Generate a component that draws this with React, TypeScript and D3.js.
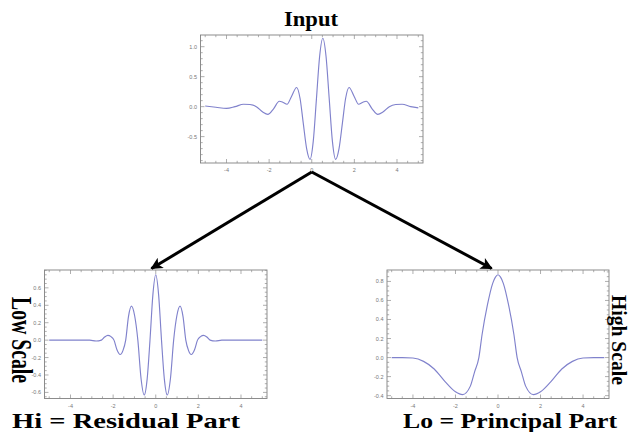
import React from 'react';
import * as d3 from 'd3';

// values
const inputX = [-5, -4.5, -4, -3.6, -3.2, -2.9, -2.6, -2.3, -2.06, -1.8, -1.52, -1.34, -1.16, -0.95, -0.71, -0.55, -0.4, -0.24, -0.08, 0.07, 0.22, 0.37, 0.52, 0.67, 0.82, 0.97, 1.12, 1.28, 1.44, 1.59, 1.75, 1.99, 2.2, 2.38, 2.56, 2.84, 3.1, 3.34, 3.64, 3.94, 4.24, 4.64, 5];
const inputY = [0.01, -0.01, -0.03, 0, 0.04, 0.035, 0, -0.09, -0.13, -0.04, 0.09, 0.07, 0.04, 0.17, 0.32, 0.14, -0.27, -0.7, -0.88, -0.58, 0.13, 0.84, 1.14, 0.84, 0.13, -0.58, -0.88, -0.7, -0.27, 0.14, 0.32, 0.17, 0.04, 0.07, 0.09, -0.04, -0.13, -0.09, 0, 0.035, 0.04, 0, -0.02];

const hiX = [-5, -4, -3.1, -2.8, -2.55, -2.4, -2.25, -2.1, -1.96, -1.82, -1.67, -1.54, -1.41, -1.28, -1.14, -0.99, -0.84, -0.69, -0.54, -0.405, -0.27, -0.135, 0, 0.135, 0.27, 0.405, 0.54, 0.69, 0.84, 0.99, 1.14, 1.28, 1.41, 1.54, 1.67, 1.82, 1.96, 2.1, 2.25, 2.4, 2.55, 2.8, 3.1, 4, 5];
const hiY = [0, 0, 0, -0.01, 0, 0.035, 0.055, 0.04, 0, -0.11, -0.165, -0.12, 0, 0.27, 0.39, 0.28, 0, -0.44, -0.63, -0.45, 0, 0.52, 0.75, 0.52, 0, -0.45, -0.63, -0.44, 0, 0.28, 0.39, 0.27, 0, -0.12, -0.165, -0.11, 0, 0.04, 0.055, 0.035, 0, -0.01, 0, 0, 0];

const loX = [-5, -4.5, -4, -3.5, -3, -2.5, -2, -1.67, -1.3, -1.1, -0.9, -0.75, -0.5, -0.25, -0.12, 0, 0.12, 0.25, 0.5, 0.75, 0.9, 1.1, 1.3, 1.67, 2, 2.5, 3, 3.5, 4, 4.5, 5];
const loY = [0, 0, -0.005, -0.04, -0.12, -0.25, -0.36, -0.39, -0.3, -0.15, 0, 0.24, 0.55, 0.78, 0.845, 0.87, 0.845, 0.78, 0.55, 0.24, 0, -0.15, -0.3, -0.39, -0.36, -0.25, -0.12, -0.04, -0.005, 0, 0];

const xTicks = [-4, -2, 0, 2, 4];
const inputYTicks = [-0.5, 0, 0.5, 1.0];
const hiYTicks = [-0.6, -0.4, -0.2, 0, 0.2, 0.4, 0.6];
const loYTicks = [-0.4, -0.2, 0, 0.2, 0.4, 0.6, 0.8];

const xDomain: [number, number] = [-5.22, 5.22];

type Frame = { left: number; right: number; top: number; bottom: number };

const fmt = (v: number) => (v === 0 ? '0.0' : v.toFixed(1));

function Panel({ xs, ys, frame, yDomain, yTicks, yMinor }: {
  xs: number[]; ys: number[]; frame: Frame; yDomain: [number, number]; yTicks: number[]; yMinor: number;
}) {
  const x = d3.scaleLinear().domain(xDomain).range([frame.left, frame.right]);
  const y = d3.scaleLinear().domain(yDomain).range([frame.bottom, frame.top]);
  const line = d3.line<number>()
    .x((d, i) => x(xs[i]))
    .y(d => y(d))
    .curve(d3.curveMonotoneX);

  const xMinor = d3.range(-5, 5.001, 0.5);
  const yMin = d3.range(Math.ceil(yDomain[0] / yMinor) * yMinor, yDomain[1], yMinor);
  const tc = '#8c8c8c';

  return (
    <g>
      <rect x={frame.left} y={frame.top} width={frame.right - frame.left} height={frame.bottom - frame.top}
        fill="none" stroke="#808080" strokeWidth={0.9} />
      {xMinor.map(v => {
        const major = xTicks.includes(v);
        const l = major ? 4 : 2.2;
        return (
          <g key={'x' + v}>
            <line x1={x(v)} x2={x(v)} y1={frame.bottom} y2={frame.bottom - l} stroke={tc} strokeWidth={0.7} />
            <line x1={x(v)} x2={x(v)} y1={frame.top} y2={frame.top + l} stroke={tc} strokeWidth={0.7} />
          </g>
        );
      })}
      {yMin.map(v => {
        const major = yTicks.some(t => Math.abs(t - v) < 1e-6);
        const l = major ? 4 : 2.2;
        return (
          <g key={'y' + v.toFixed(3)}>
            <line x1={frame.left} x2={frame.left + l} y1={y(v)} y2={y(v)} stroke={tc} strokeWidth={0.7} />
            <line x1={frame.right} x2={frame.right - l} y1={y(v)} y2={y(v)} stroke={tc} strokeWidth={0.7} />
          </g>
        );
      })}
      {xTicks.map(v => (
        <text key={'xl' + v} x={x(v)} y={frame.bottom + 9} textAnchor="middle" fontSize={5.5}
          fontFamily="Liberation Sans, sans-serif" fill="#777">{v === 0 ? '0' : String(v)}</text>
      ))}
      {yTicks.map(v => (
        <text key={'yl' + v} x={frame.left - 3.5} y={y(v) + 2} textAnchor="end" fontSize={5.5}
          fontFamily="Liberation Sans, sans-serif" fill="#777">{fmt(v)}</text>
      ))}
      <path d={line(ys) || ''} fill="none" stroke="#8082cc" strokeWidth={1.15} />
    </g>
  );
}

export default function App() {
  const inputFrame: Frame = { left: 200.5, right: 423, top: 35, bottom: 163 };
  const hiFrame: Frame = { left: 44.5, right: 267, top: 270, bottom: 398.5 };
  const loFrame: Frame = { left: 387, right: 609, top: 270, bottom: 398.5 };

  const inX = d3.scaleLinear().domain(xDomain).range([inputFrame.left, inputFrame.right]);
  const hX = d3.scaleLinear().domain(xDomain).range([hiFrame.left, hiFrame.right]);
  const lX = d3.scaleLinear().domain(xDomain).range([loFrame.left, loFrame.right]);
  const apex = { x: inX(0), y: 172 };
  const ends = [
    { x: hX(-0.2), y: hiFrame.top - 1.5 },
    { x: lX(-0.3), y: loFrame.top - 1.5 },
  ];

  const serif = 'Liberation Serif, Times New Roman, serif';

  return (
    <svg width={631} height={432} style={{ position: 'absolute', left: 0, top: 0, background: '#fff' }}>
      <defs>
        <marker id="head" viewBox="0 0 10 10" refX="9" refY="5" markerWidth="4.4" markerHeight="4"
          orient="auto" markerUnits="strokeWidth">
          <path d="M0,0 L10,5 L0,10 L2.5,5 Z" fill="#000" />
        </marker>
      </defs>

      <Panel xs={inputX} ys={inputY} frame={inputFrame} yDomain={[-0.94, 1.195]} yTicks={inputYTicks} yMinor={0.1} />
      <Panel xs={hiX} ys={hiY} frame={hiFrame} yDomain={[-0.67, 0.805]} yTicks={hiYTicks} yMinor={0.05} />
      <Panel xs={loX} ys={loY} frame={loFrame} yDomain={[-0.43, 0.92]} yTicks={loYTicks} yMinor={0.05} />

      {ends.map((e, i) => (
        <line key={i} x1={apex.x} y1={apex.y} x2={e.x} y2={e.y} stroke="#000" strokeWidth={3}
          markerEnd="url(#head)" />
      ))}

      <text x={311} y={26} textAnchor="middle" fontFamily={serif} fontWeight="bold" fontSize={20}
        textLength={54} lengthAdjust="spacingAndGlyphs">Input</text>
      <text x={126} y={428} textAnchor="middle" fontFamily={serif} fontWeight="bold" fontSize={22}
        textLength={228} lengthAdjust="spacingAndGlyphs">Hi = Residual Part</text>
      <text x={510} y={428} textAnchor="middle" fontFamily={serif} fontWeight="bold" fontSize={22}
        textLength={214} lengthAdjust="spacingAndGlyphs">Lo = Principal Part</text>
      <text transform="translate(12,340) rotate(90)" textAnchor="middle" fontFamily={serif} fontWeight="bold"
        fontSize={30} textLength={86} lengthAdjust="spacingAndGlyphs">Low Scale</text>
      <text transform="translate(612,340) rotate(90)" textAnchor="middle" fontFamily={serif} fontWeight="bold"
        fontSize={20} textLength={90} lengthAdjust="spacingAndGlyphs">High Scale</text>
    </svg>
  );
}
